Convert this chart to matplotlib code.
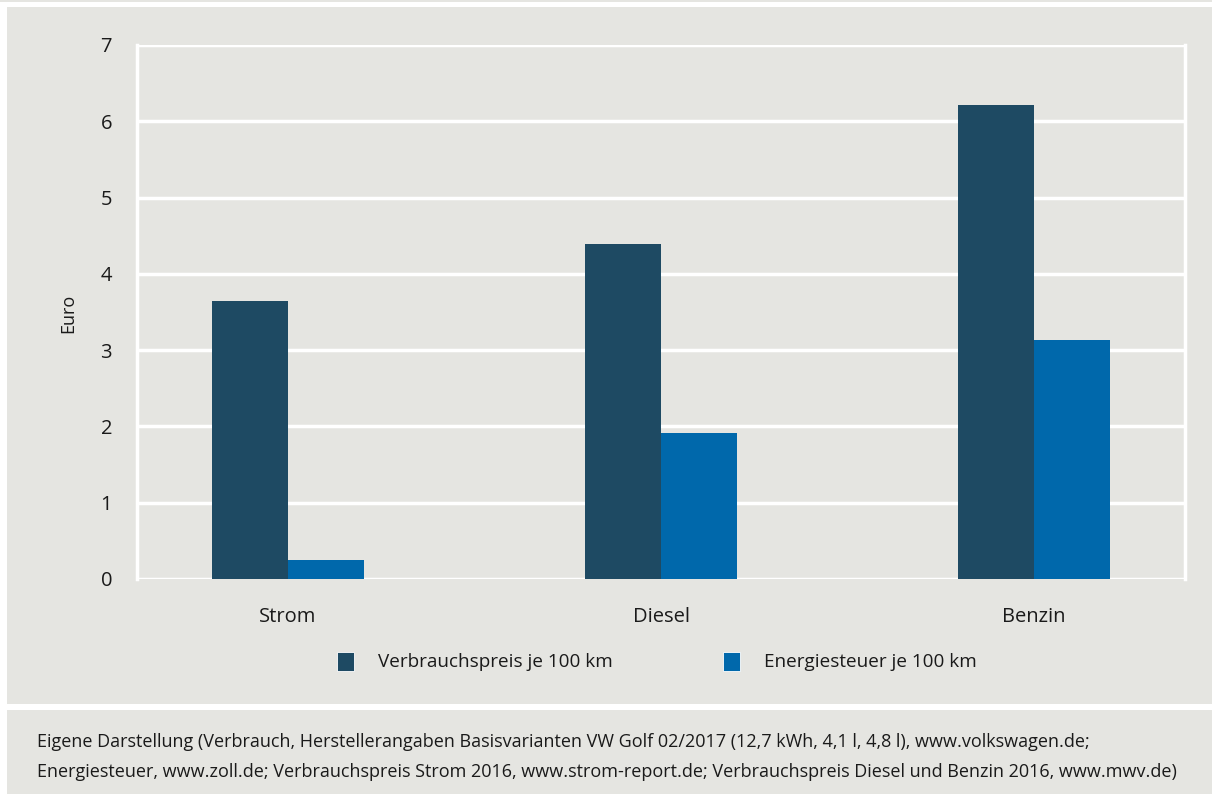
import matplotlib.pyplot as plt
import matplotlib.patches as mpatches
import numpy as np

kategorien = ['Strom', 'Diesel', 'Benzin']
verbrauchspreis = [3.64, 4.39, 6.21]
energiesteuer = [0.25, 1.91, 3.13]
serien = ['Verbrauchspreis je 100 km', 'Energiesteuer je 100 km']

farbe_dunkel = '#1e4a63'
farbe_blau = '#0068ab'
hintergrund = '#e5e5e1'
textfarbe = '#1a1a1a'
schrift = 'Open Sans'

fig = plt.figure(figsize=(12.12, 7.94), dpi=100)
fig.patch.set_facecolor('white')


def flaeche(x0, y0, x1, y1, farbe, z=-5, **kw):
    # Rechteck in Pixelkoordinaten (y von oben gezaehlt)
    r = mpatches.Rectangle((x0 / 1212, 1 - y1 / 794), (x1 - x0) / 1212, (y1 - y0) / 794,
                           transform=fig.transFigure, facecolor=farbe, zorder=z, **kw)
    fig.patches.append(r)


# graue Flaechen fuer Diagramm und Quellenangabe
flaeche(7, 7, 1212, 704, hintergrund, edgecolor='none')
flaeche(7, 710, 1212, 794, hintergrund, edgecolor='none')
flaeche(0, 0, 1212, 2, hintergrund, edgecolor='none')

ax = fig.add_axes([137 / 1212, 1 - 579 / 794, (1185 - 137) / 1212, (579 - 45) / 794])
ax.set_facecolor(hintergrund)

x = np.arange(len(kategorien))
breite = 0.204
ax.bar(x - breite / 2, verbrauchspreis, breite, color=farbe_dunkel, zorder=3)
ax.bar(x + breite / 2, energiesteuer, breite, color=farbe_blau, zorder=3)

ax.set_xlim(-0.405, 2.405)
ax.set_ylim(0, 7)
ax.set_yticks(range(0, 8))
ax.yaxis.grid(True, color='white', linewidth=2.5, zorder=1)
ax.set_axisbelow(True)

for s in ['top', 'bottom']:
    ax.spines[s].set_visible(False)
for s in ['left', 'right']:
    ax.spines[s].set_color('white')
    ax.spines[s].set_linewidth(2.5)

ax.set_xticks(x)
ax.set_xticklabels(kategorien)
ax.tick_params(axis='both', length=0, labelsize=14.5, colors=textfarbe)
ax.tick_params(axis='x', pad=20)
ax.tick_params(axis='y', pad=18)
for lbl in ax.get_xticklabels() + ax.get_yticklabels():
    lbl.set_fontfamily(schrift)

fig.text(68 / 1212, 1 - 313 / 794, 'Euro', rotation=90, ha='center', va='center',
         fontsize=13, family=schrift, color=textfarbe)

# Legende
for xl, farbe, name in [(337, farbe_dunkel, serien[0]), (723, farbe_blau, serien[1])]:
    flaeche(xl, 652, xl + 17, 671, farbe, z=2, edgecolor='white', linewidth=0.6)
    fig.text((xl + 41) / 1212, 1 - 662 / 794, name, ha='left', va='center',
             fontsize=13.6, family=schrift, color=textfarbe)

quelle = ('Eigene Darstellung (Verbrauch, Herstellerangaben Basisvarianten VW Golf 02/2017 '
          '(12,7 kWh, 4,1 l, 4,8 l), www.volkswagen.de;\n'
          'Energiesteuer, www.zoll.de; Verbrauchspreis Strom 2016, www.strom-report.de; '
          'Verbrauchspreis Diesel und Benzin 2016, www.mwv.de)')
fig.text(37 / 1212, 1 - 757 / 794, quelle, ha='left', va='center', fontsize=12.95,
         family=schrift, color=textfarbe, linespacing=1.8)

fig.savefig('out.png', dpi=100, facecolor=fig.get_facecolor())
